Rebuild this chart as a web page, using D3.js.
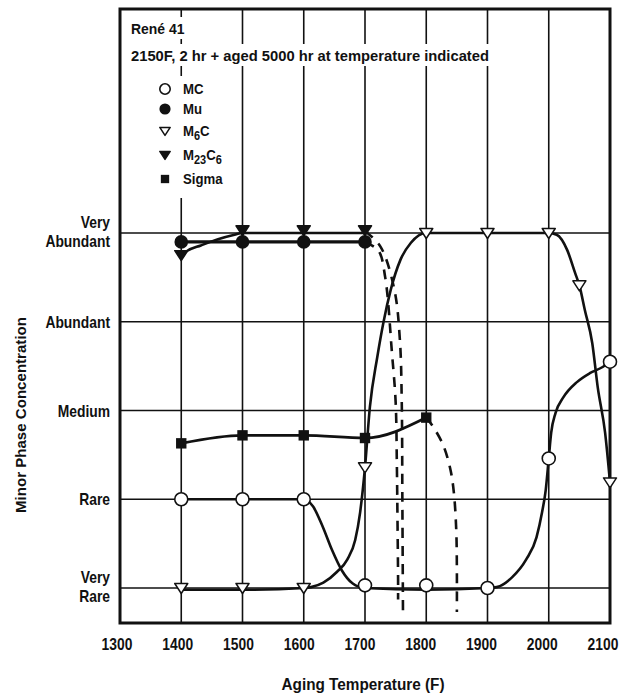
<!DOCTYPE html>
<html>
<head>
<meta charset="utf-8">
<script src="https://cdn.jsdelivr.net/npm/d3@7"></script>
<style>
  html, body { margin: 0; padding: 0; background: #fff; }
  svg { display: block; }
  text { font-family: "Liberation Sans", Arial, Helvetica, sans-serif; font-weight: bold; fill: #111; }
</style>
</head>
<body>
<svg id="chart" width="625" height="698"></svg>
<script>
// ---------- DATA ----------
const headerLines = ["René 41", "2150F, 2 hr + aged 5000 hr at temperature indicated"];
const xTicks = [1300, 1400, 1500, 1600, 1700, 1800, 1900, 2000, 2100];
const levelLabels = [["Very", "Rare"], ["Rare"], ["Medium"], ["Abundant"], ["Very", "Abundant"]];
const levels = [0, 1, 2, 3, 4];
const xTitle = "Aging Temperature (F)";
const yTitle = "Minor Phase Concentration";

// marker positions: temperature (F) and concentration level (0 = very rare ... 4 = very abundant)
const mcT   = [1400, 1500, 1600, 1700, 1800, 1900, 2000, 2100];
const mcLvl = [1, 1, 1, 0.03, 0.03, 0, 1.46, 2.55];
const muT   = [1400, 1500, 1600, 1700];
const muLvl = [3.9, 3.9, 3.9, 3.9];
const m6cT   = [1400, 1500, 1600, 1700, 1800, 1900, 2000, 2050, 2100];
const m6cLvl = [0, 0, 0, 1.36, 4, 4, 4, 3.41, 1.19];
const m23T   = [1400, 1500, 1600, 1700];
const m23Lvl = [3.75, 4.03, 4.03, 4.03];
const sigT   = [1400, 1500, 1600, 1700, 1800];
const sigLvl = [1.63, 1.72, 1.72, 1.69, 1.92];

// traced solid curves (temperature, level)
const mcCurveT   = [1400, 1500, 1600, 1615, 1631, 1646, 1662, 1680, 1700, 1800, 1900, 1915, 1940, 1963, 1980, 1989, 1995, 2000, 2004, 2011, 2024, 2046, 2067, 2088, 2100];
const mcCurveLvl = [1, 1, 1, 0.92, 0.69, 0.43, 0.2, 0.05, 0.0, -0.02, 0, 0.01, 0.12, 0.32, 0.57, 0.85, 1.1, 1.46, 1.75, 1.97, 2.15, 2.32, 2.42, 2.49, 2.55];
const muCurveT   = [1400, 1500, 1600, 1700];
const muCurveLvl = [3.9, 3.9, 3.9, 3.9];
const m6cCurveT   = [1400, 1500, 1600, 1612, 1632, 1654, 1671, 1684, 1692, 1700, 1708, 1720, 1730, 1742, 1758, 1775, 1800, 1900, 2000, 2013, 2030, 2043, 2050, 2059, 2071, 2080, 2092, 2100];
const m6cCurveLvl = [-0.02, -0.02, 0, 0.01, 0.06, 0.18, 0.32, 0.54, 0.85, 1.36, 2.04, 2.6, 2.99, 3.36, 3.7, 3.89, 4, 4, 4, 3.98, 3.81, 3.55, 3.41, 3.13, 2.76, 2.26, 1.75, 1.19];
const m23CurveT   = [1400, 1410, 1432, 1460, 1487, 1500, 1600, 1700];
const m23CurveLvl = [3.75, 3.8, 3.86, 3.93, 3.98, 4.0, 4.0, 4.0];
const sigCurveT   = [1400, 1500, 1600, 1700, 1800];
const sigCurveLvl = [1.63, 1.72, 1.72, 1.69, 1.92];

// traced dashed curves (dissolution)
const muDashT   = [1700, 1722, 1733, 1744, 1750, 1752, 1753, 1754, 1754];
const muDashLvl = [3.9, 3.8, 3.5, 2.65, 2.1, 1.4, 0.8, 0.1, -0.13];
const m23DashT   = [1700, 1725, 1748, 1757, 1760, 1761, 1762];
const m23DashLvl = [4.02, 3.85, 3.36, 2.79, 2.1, 1.0, -0.27];
const sigDashT   = [1800, 1809, 1827, 1839, 1845, 1849, 1850, 1850];
const sigDashLvl = [1.92, 1.84, 1.62, 1.35, 1.08, 0.65, 0.2, -0.27];

// legend
const legendNames = ["MC", "Mu", "M6C", "M23C6", "Sigma"];
const legendSymbols = ["openCircle", "filledCircle", "openTri", "filledTri", "filledSquare"];

// ---------- DRAWING ----------
const svg = d3.select("#chart");
const x = d3.scaleLinear().domain([1300, 2100]).range([120, 610]);
const xLab = d3.scaleLinear().domain([1300, 2100]).range([117, 603]);
const y = d3.scaleLinear().domain([0, 4]).range([588, 233]);
const plotTop = 9, plotBottom = 623;

const zip = (a, b) => a.map((v, i) => [v, b[i]]);

// condensed (tall, narrow) text helper
function ctext(tx, ty, str, size, anchor, sx) {
  return svg.append("text")
    .attr("transform", `translate(${tx},${ty}) scale(${sx || 0.84},1)`)
    .attr("text-anchor", anchor || "start").attr("font-size", size).text(str);
}

// grid
const g = svg.append("g");
g.selectAll("line.v").data(xTicks.slice(1, -1)).join("line")
  .attr("x1", d => x(d)).attr("x2", d => x(d))
  .attr("y1", plotTop).attr("y2", plotBottom)
  .attr("stroke", "#111").attr("stroke-width", 1.6);
g.selectAll("line.h").data(levels).join("line")
  .attr("x1", x(1300)).attr("x2", x(2100))
  .attr("y1", d => y(d)).attr("y2", d => y(d))
  .attr("stroke", "#111").attr("stroke-width", 1.6);

// white blocks behind header / legend
svg.append("rect").attr("x", 126).attr("y", 17).attr("width", 66).attr("height", 22).attr("fill", "#fff");
svg.append("rect").attr("x", 126).attr("y", 44).attr("width", 370).attr("height", 22).attr("fill", "#fff");
svg.append("rect").attr("x", 150).attr("y", 76).attr("width", 86).attr("height", 122).attr("fill", "#fff");

// frame
svg.append("rect").attr("x", x(1300)).attr("y", plotTop)
  .attr("width", x(2100) - x(1300)).attr("height", plotBottom - plotTop)
  .attr("fill", "none").attr("stroke", "#111").attr("stroke-width", 3);

// curves
const mono = d3.line().x(d => x(d[0])).y(d => y(d[1])).curve(d3.curveMonotoneX);
const smooth = d3.line().x(d => x(d[0])).y(d => y(d[1])).curve(d3.curveCatmullRom.alpha(0.5));
const solid = [
  [zip(mcCurveT, mcCurveLvl), 2.6],
  [zip(muCurveT, muCurveLvl), 3.2],
  [zip(m6cCurveT, m6cCurveLvl), 2.6],
  [zip(m23CurveT, m23CurveLvl), 2.6],
  [zip(sigCurveT, sigCurveLvl), 2.8]
];
solid.forEach(([pts, w]) => svg.append("path").attr("d", mono(pts))
  .attr("fill", "none").attr("stroke", "#111").attr("stroke-width", w));
[zip(muDashT, muDashLvl), zip(m23DashT, m23DashLvl), zip(sigDashT, sigDashLvl)].forEach(pts =>
  svg.append("path").attr("d", smooth(pts)).attr("fill", "none").attr("stroke", "#111")
    .attr("stroke-width", 2.6).attr("stroke-dasharray", "10,8"));

// markers
function drawSymbol(sel, kind, cx, cy, s) {
  s = s || 1;
  if (kind === "openCircle" || kind === "filledCircle") {
    sel.append("circle").attr("cx", cx).attr("cy", cy).attr("r", (kind === "openCircle" ? 6.5 : 6) * s)
      .attr("fill", kind === "openCircle" ? "#fff" : "#111").attr("stroke", "#111").attr("stroke-width", 1.6);
  } else if (kind === "openTri" || kind === "filledTri") {
    const w = 6.5 * s, h = 10 * s;
    sel.append("path").attr("d", `M${cx - w},${cy - h * 0.45}L${cx + w},${cy - h * 0.45}L${cx},${cy + h * 0.55}Z`)
      .attr("fill", kind === "openTri" ? "#fff" : "#111").attr("stroke", "#111").attr("stroke-width", 1.5)
      .attr("stroke-linejoin", "round");
  } else {
    const a = 5.2 * s;
    sel.append("rect").attr("x", cx - a).attr("y", cy - a).attr("width", 2 * a).attr("height", 2 * a)
      .attr("fill", "#111");
  }
}
const mk = svg.append("g");
zip(sigT, sigLvl).forEach(d => drawSymbol(mk, "filledSquare", x(d[0]), y(d[1])));
zip(muT, muLvl).forEach(d => drawSymbol(mk, "filledCircle", x(d[0]), y(d[1])));
zip(m23T, m23Lvl).forEach(d => drawSymbol(mk, "filledTri", x(d[0]), y(d[1])));
zip(m6cT, m6cLvl).forEach(d => drawSymbol(mk, "openTri", x(d[0]), y(d[1])));
zip(mcT, mcLvl).forEach(d => drawSymbol(mk, "openCircle", x(d[0]), y(d[1])));

// header text
ctext(131, 34, headerLines[0], 15.5, "start", 0.9);
svg.append("text").attr("x", 131).attr("y", 61).attr("font-size", 15)
  .attr("textLength", 358).attr("lengthAdjust", "spacingAndGlyphs").text(headerLines[1]);

// legend
const legendY = [89, 109, 131, 155, 179];
legendNames.forEach((name, i) => {
  drawSymbol(svg, legendSymbols[i], 165, legendY[i], 0.8);
  const t = svg.append("text").attr("transform", `translate(183,${legendY[i] + 5}) scale(0.88,1)`).attr("font-size", 15);
  const m = name.match(/^([A-Za-z]+?)(\d+)([A-Za-z]*)(\d*)$/);
  if (m) {
    t.append("tspan").text(m[1]);
    t.append("tspan").attr("dy", 4).attr("font-size", 12.5).text(m[2]);
    t.append("tspan").attr("dy", -4).text(m[3]);
    if (m[4]) t.append("tspan").attr("dy", 4).attr("font-size", 12.5).text(m[4]);
  } else t.text(name);
});

// y level labels
levels.forEach(l => {
  const lines = levelLabels[l];
  lines.forEach((s, j) => {
    const off = lines.length === 1 ? 6 : (j === 0 ? -5 : 14);
    ctext(110, y(l) + off, s, 16.5, "end");
  });
});

// x tick labels
xTicks.forEach(d => ctext(xLab(d), 650, d, 16.5, "middle"));

// axis titles
svg.append("text").attr("x", 363).attr("y", 690).attr("text-anchor", "middle").attr("font-size", 16)
  .attr("textLength", 163).attr("lengthAdjust", "spacingAndGlyphs").text(xTitle);
svg.append("text").attr("transform", "translate(26,415) rotate(-90)").attr("text-anchor", "middle")
  .attr("font-size", 15.5).attr("textLength", 196).attr("lengthAdjust", "spacingAndGlyphs").text(yTitle);
</script>
</body>
</html>
